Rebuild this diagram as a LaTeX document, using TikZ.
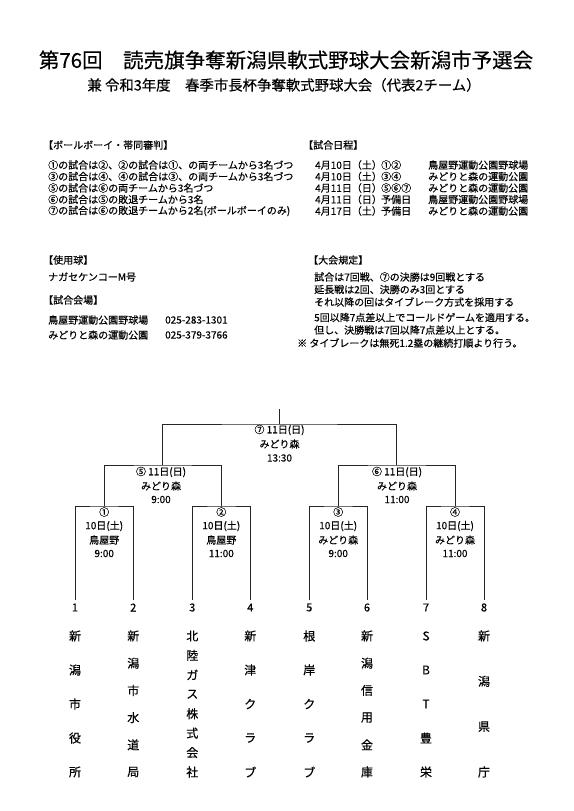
\documentclass[tikz,border=0pt]{standalone}
\usepackage{fontspec}
\setmainfont{Noto Sans CJK JP}[FakeBold=0.35]
\newcommand\teamcol[4]{%
  \foreach \c [count=\i from 0] in {#4}{%
    \node[team] (#1-\i) at (#2,{636+\i*136/(#3-1)}) {\c};}}
\begin{document}
\begin{tikzpicture}[x=1pt,y=-1pt,
  txt/.style={anchor=west,inner sep=0pt,font=\fontsize{10}{12}\selectfont},
  lbl/.style={inner sep=0pt,font=\fontsize{10}{12}\selectfont},
  num/.style={inner sep=0pt,font=\fontsize{11}{12}\selectfont},
  team/.style={inner sep=0pt,font=\fontsize{12}{13}\selectfont},
  br/.style={line width=1pt,draw=black!85}]
\useasboundingbox (0,0) rectangle (573,811);
\fill[white] (0,0) rectangle (573,811);
% titles
\node[inner sep=0pt,font=\fontsize{20.5}{22}\selectfont] (title) at (286,60) {第76回　読売旗争奪新潟県軟式野球大会新潟市予選会};
\node[inner sep=0pt,font=\fontsize{14.4}{16}\selectfont] (subtitle) at (284,85) {兼 令和3年度　春季市長杯争奪軟式野球大会（代表2チーム）};
% left block
\node[txt] (h1) at (43,145) {【ボールボーイ・帯同審判】};
\node[txt] (a1) at (48,165) {①の試合は②、②の試合は①、の両チームから3名づつ};
\node[txt] (a2) at (48,176.5) {③の試合は④、④の試合は③、の両チームから3名づつ};
\node[txt] (a3) at (48,188) {⑤の試合は⑥の両チームから3名づつ};
\node[txt] (a4) at (48,199.5) {⑥の試合は⑤の敗退チームから3名};
\node[txt] (a5) at (48,211) {⑦の試合は⑥の敗退チームから2名(ボールボーイのみ)};
% schedule
\node[txt] (h2) at (303,145) {【試合日程】};
\foreach \d/\m/\v [count=\i from 0] in {4月10日（土）/①②/鳥屋野運動公園野球場,
  4月10日（土）/③④/みどりと森の運動公園,
  4月11日（日）/⑤⑥⑦/みどりと森の運動公園,
  4月11日（日）/予備日/鳥屋野運動公園野球場,
  4月17日（土）/予備日/みどりと森の運動公園}{
  \node[txt] (sd\i) at (315,{165+11.5*\i}) {\d};
  \node[txt] (sm\i) at (381,{165+11.5*\i}) {\m};
  \node[txt] (sv\i) at (428,{165+11.5*\i}) {\v};
}
% ball & venues
\node[txt] (h3) at (43,260) {【使用球】};
\node[txt] (b1) at (48,277) {ナガセケンコーM号};
\node[txt] (h4) at (43,300) {【試合会場】};
\node[txt] (v1) at (48,320) {鳥屋野運動公園野球場};
\node[txt] (p1) at (165,320) {025-283-1301};
\node[txt] (v2) at (48,335) {みどりと森の運動公園};
\node[txt] (p2) at (165,335) {025-379-3766};
% rules
\node[txt] (h5) at (308,260) {【大会規定】};
\node[txt] (r1) at (314,277) {試合は7回戦、⑦の決勝は9回戦とする};
\node[txt] (r2) at (314,289.5) {延長戦は2回、決勝のみ3回とする};
\node[txt] (r3) at (314,302) {それ以降の回はタイブレーク方式を採用する};
\node[txt] (r4) at (314,317.5) {5回以降7点差以上でコールドゲームを適用する。};
\node[txt] (r5) at (314,330) {但し、決勝戦は7回以降7点差以上とする。};
\node[txt] (r6) at (297,343) {※ タイブレークは無死1.2塁の継続打順より行う。};
% bracket coordinates
\coordinate (top) at (279.5,409);
\coordinate (F) at (279.5,424);
\coordinate (S5) at (162.8,465);
\coordinate (S6) at (396.6,465);
\coordinate (M1) at (104.2,506);
\coordinate (M2) at (221.3,506);
\coordinate (M3) at (338.2,506);
\coordinate (M4) at (455,506);
\foreach \x [count=\i] in {75,133.3,192.3,250.3,309.3,367,426,484}{
  \coordinate (L\i) at (\x,600);
  \node[num] (n\i) at (\x,607.5) {\i};
}
\draw[br] (top) -- (F);
\draw[br] (S5) |- (F) -| (S6);
\draw[br] (M1) |- (S5) -| (M2);
\draw[br] (M3) |- (S6) -| (M4);
\draw[br] (L1) |- (M1) -| (L2);
\draw[br] (L3) |- (M2) -| (L4);
\draw[br] (L5) |- (M3) -| (L6);
\draw[br] (L7) |- (M4) -| (L8);
% match labels
\node[lbl] (f1) at (279.5,430) {⑦ 11日(日)};
\node[lbl] (f2) at (279.5,444) {みどり森};
\node[lbl] (f3) at (279.5,458) {13:30};
\node[lbl] (s51) at (161,472) {⑤ 11日(日)};
\node[lbl] (s52) at (161,486) {みどり森};
\node[lbl] (s53) at (161,499.5) {9:00};
\node[lbl] (s61) at (397,472) {⑥ 11日(日)};
\node[lbl] (s62) at (397,486) {みどり森};
\node[lbl] (s63) at (397,499.5) {11:00};
\foreach \x/\c/\p/\t [count=\i] in {104.2/①/鳥屋野/9:00, 221.3/②/鳥屋野/11:00, 338.2/③/みどり森/9:00, 455/④/みどり森/11:00}{
  \node[lbl] (m\i a) at (\x,512) {\c};
  \node[lbl] (m\i b) at (\x,526) {10日(土)};
  \node[lbl] (m\i c) at (\x,540) {\p};
  \node[lbl] (m\i d) at (\x,553.5) {\t};
}
% teams
\teamcol{t1}{75}{5}{新,潟,市,役,所}
\teamcol{t2}{133.3}{6}{新,潟,市,水,道,局}
\teamcol{t3}{192.3}{8}{北,陸,ガ,ス,株,式,会,社}
\teamcol{t4}{250.3}{5}{新,津,ク,ラ,ブ}
\teamcol{t5}{309.3}{5}{根,岸,ク,ラ,ブ}
\teamcol{t6}{367}{6}{新,潟,信,用,金,庫}
\teamcol{t7}{426}{5}{S,B,T,豊,栄}
\teamcol{t8}{484}{4}{新,潟,県,庁}
\end{tikzpicture}
\end{document}
